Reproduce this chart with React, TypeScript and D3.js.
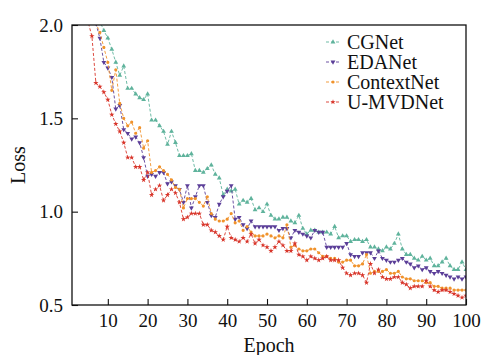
import * as d3 from "d3";
import React from "react";

// epochs 1..100 on the x axis
const epochs = d3.range(1, 101);

const seriesNames = ["CGNet", "EDANet", "ContextNet", "U-MVDNet"];
const seriesColours = ["#5fb39c", "#5b3e98", "#f0922b", "#d8352a"];

const cgnetLoss = [
    2.60, 2.48, 2.38, 2.30, 2.22, 2.15, 2.08, 2.02, 1.97, 1.93,
    1.87, 1.80, 1.73, 1.78, 1.66, 1.66, 1.63, 1.61, 1.60, 1.63,
    1.49, 1.49, 1.46, 1.43, 1.36, 1.43, 1.37, 1.30, 1.30, 1.30,
    1.31, 1.22, 1.22, 1.21, 1.23, 1.25, 1.20, 1.18, 1.09, 1.12,
    1.11, 1.12, 1.04, 1.06, 1.05, 1.07, 1.01, 1.02, 1.00, 1.04,
    0.98, 0.96, 0.96, 0.97, 0.97, 0.95, 0.94, 0.98, 0.91, 0.88,
    0.90, 0.90, 0.89, 0.89, 0.89, 0.88, 0.92, 0.86, 0.87, 0.87,
    0.84, 0.85, 0.85, 0.84, 0.85, 0.81, 0.81, 0.80, 0.79, 0.81,
    0.80, 0.83, 0.88, 0.80, 0.77, 0.77, 0.75, 0.74, 0.76, 0.74,
    0.75, 0.71, 0.71, 0.73, 0.75, 0.71, 0.69, 0.69, 0.73, 0.69,
];

const edanetLoss = [
    2.50, 2.40, 2.30, 2.22, 2.14, 2.07, 2.01, 1.93, 1.80, 1.77,
    1.72, 1.55, 1.57, 1.44, 1.42, 1.39, 1.40, 1.37, 1.29, 1.19,
    1.20, 1.19, 1.21, 1.21, 1.15, 1.16, 1.14, 1.12, 1.05, 1.14,
    1.02, 1.08, 1.14, 1.14, 1.05, 0.98, 0.97, 1.04, 1.08, 1.11,
    1.14, 0.96, 0.97, 0.93, 0.91, 0.95, 0.92, 0.92, 0.92, 0.92,
    0.92, 0.92, 0.90, 0.91, 0.91, 0.86, 0.90, 0.89, 0.88, 0.87,
    0.86, 0.90, 0.89, 0.89, 0.81, 0.81, 0.81, 0.81, 0.81, 0.83,
    0.77, 0.76, 0.76, 0.78, 0.78, 0.78, 0.75, 0.79, 0.75, 0.74,
    0.73, 0.73, 0.74, 0.75, 0.73, 0.72, 0.70, 0.71, 0.69, 0.70,
    0.68, 0.67, 0.68, 0.67, 0.66, 0.65, 0.64, 0.65, 0.64, 0.65,
];

const contextnetLoss = [
    2.45, 2.35, 2.26, 2.18, 2.11, 2.05, 2.01, 1.96, 1.88, 1.80,
    1.65, 1.76, 1.58, 1.50, 1.46, 1.48, 1.42, 1.45, 1.34, 1.38,
    1.21, 1.22, 1.24, 1.22, 1.20, 1.17, 1.13, 1.12, 1.02, 1.07,
    1.07, 1.07, 1.05, 1.03, 1.08, 0.99, 0.96, 0.95, 0.95, 0.96,
    0.99, 0.94, 0.95, 0.90, 0.92, 0.89, 0.87, 0.87, 0.87, 0.88,
    0.87, 0.86, 0.87, 0.86, 0.93, 0.81, 0.82, 0.80, 0.79, 0.79,
    0.80, 0.80, 0.78, 0.76, 0.76, 0.75, 0.75, 0.73, 0.73, 0.74,
    0.74, 0.71, 0.71, 0.72, 0.77, 0.67, 0.68, 0.68, 0.68, 0.69,
    0.67, 0.67, 0.68, 0.65, 0.64, 0.64, 0.63, 0.63, 0.63, 0.62,
    0.62, 0.60, 0.60, 0.59, 0.59, 0.59, 0.58, 0.58, 0.58, 0.58,
];

const umvdnetLoss = [
    2.40, 2.28, 2.18, 2.10, 2.02, 1.94, 1.69, 1.67, 1.64, 1.60,
    1.52, 1.47, 1.43, 1.37, 1.29, 1.29, 1.24, 1.24, 1.17, 1.21,
    1.09, 1.12, 1.14, 1.06, 1.09, 1.12, 1.10, 1.05, 0.96, 0.97,
    0.99, 0.99, 0.99, 0.93, 0.93, 0.90, 0.89, 0.87, 0.85, 0.92,
    0.86, 0.85, 0.84, 0.86, 0.84, 0.88, 0.83, 0.85, 0.82, 0.81,
    0.79, 0.81, 0.84, 0.82, 0.79, 0.79, 0.83, 0.77, 0.76, 0.74,
    0.76, 0.75, 0.74, 0.75, 0.76, 0.74, 0.74, 0.74, 0.70, 0.67,
    0.66, 0.67, 0.67, 0.66, 0.62, 0.72, 0.67, 0.69, 0.65, 0.64,
    0.64, 0.65, 0.65, 0.62, 0.61, 0.59, 0.60, 0.60, 0.60, 0.63,
    0.60, 0.58, 0.57, 0.58, 0.58, 0.57, 0.56, 0.55, 0.54, 0.55,
];

const xTicks = [10, 20, 30, 40, 50, 60, 70, 80, 90, 100];
const yTicks = [0.5, 1.0, 1.5, 2.0];

const seriesValues = [cgnetLoss, edanetLoss, contextnetLoss, umvdnetLoss];

const FONT = "'Liberation Serif', 'Times New Roman', serif";


class LossChart extends React.Component {

    canvas = {width: 484, height: 355};
    plotArea = {margins: {left: 72, right: 18, top: 25, bottom: 50}};
    svgRef = React.createRef();

    componentDidMount() {
        this.draw();
    }

    draw() {
        const svg = d3.select(this.svgRef.current);
        svg.selectAll("*").remove();

        const m = this.plotArea.margins;
        const width = this.canvas.width - m.left - m.right;
        const height = this.canvas.height - m.top - m.bottom;

        const x = d3.scaleLinear().domain([1, 100]).range([0, width]);
        const y = d3.scaleLinear().domain([0.5, 2.0]).range([height, 0]);

        svg.append("defs")
            .append("clipPath")
            .attr("id", "plot-clip")
            .append("rect")
            .attr("width", width)
            .attr("height", height);

        const plot = svg.append("g")
            .attr("transform", `translate(${m.left},${m.top})`);

        // markers per series
        const symbols = [
            d3.symbol().type(d3.symbolTriangle).size(10),
            d3.symbol().type(d3.symbolTriangle).size(10),
            d3.symbol().type(d3.symbolCircle).size(8),
            d3.symbol().type(d3.symbolStar).size(9),
        ];
        const rotation = [0, 180, 0, 0];

        const data = seriesNames.map((name, i) => ({
            name: name,
            colour: seriesColours[i],
            points: epochs.map((e, j) => ({epoch: e, loss: seriesValues[i][j]})),
        }));

        const line = d3.line()
            .x(d => x(d.epoch))
            .y(d => y(d.loss));

        const lines = plot.append("g").attr("clip-path", "url(#plot-clip)");

        data.forEach((s, i) => {
            const g = lines.append("g");
            g.append("path")
                .attr("d", line(s.points))
                .attr("fill", "none")
                .attr("stroke", s.colour)
                .attr("stroke-width", 0.9)
                .attr("stroke-dasharray", "3,2");
            g.selectAll("path.marker")
                .data(s.points)
                .join("path")
                .attr("class", "marker")
                .attr("d", symbols[i])
                .attr("transform", d => `translate(${x(d.epoch)},${y(d.loss)}) rotate(${rotation[i]})`)
                .attr("fill", s.colour);
        });

        // axes
        const xAxis = plot.append("g")
            .attr("transform", `translate(0,${height})`)
            .call(d3.axisBottom(x).tickValues(xTicks).tickSizeInner(-6).tickSizeOuter(0).tickPadding(9));
        const yAxis = plot.append("g")
            .call(d3.axisLeft(y).tickValues(yTicks).tickFormat(d3.format(".1f"))
                .tickSizeInner(-6).tickSizeOuter(0).tickPadding(9));

        [xAxis, yAxis].forEach(a => {
            a.selectAll("text")
                .attr("font-family", FONT)
                .attr("font-size", 19)
                .attr("fill", "#111");
            a.selectAll("line").attr("stroke", "#111").attr("stroke-width", 1.1);
            a.select(".domain").remove();
        });

        plot.append("rect")
            .attr("width", width)
            .attr("height", height)
            .attr("fill", "none")
            .attr("stroke", "#111")
            .attr("stroke-width", 1.3);

        // axis titles
        svg.append("text")
            .attr("x", m.left + width / 2)
            .attr("y", 352)
            .attr("text-anchor", "middle")
            .attr("font-family", FONT)
            .attr("font-size", 20)
            .attr("fill", "#111")
            .text("Epoch");
        svg.append("text")
            .attr("transform", `translate(25,${m.top + height / 2}) rotate(-90)`)
            .attr("text-anchor", "middle")
            .attr("font-family", FONT)
            .attr("font-size", 20)
            .attr("fill", "#111")
            .text("Loss");

        // legend
        const legend = svg.append("g").attr("transform", "translate(326,42)");
        data.forEach((s, i) => {
            const row = legend.append("g").attr("transform", `translate(0,${i * 20})`);
            row.append("line")
                .attr("x1", 0).attr("x2", 14)
                .attr("stroke", s.colour)
                .attr("stroke-width", 0.9)
                .attr("stroke-dasharray", "3,2");
            row.append("path")
                .attr("d", symbols[i])
                .attr("transform", `translate(7,0) rotate(${rotation[i]})`)
                .attr("fill", s.colour);
            row.append("text")
                .attr("x", 21)
                .attr("dy", "0.35em")
                .attr("font-family", FONT)
                .attr("font-size", 20)
                .attr("fill", "#111")
                .text(s.name);
        });
    }

    render() {
        return (
            <svg
                ref={this.svgRef}
                width={this.canvas.width}
                height={this.canvas.height}
                style={{position: "absolute", left: 0, top: 0, background: "#fff"}}
            />
        );
    }
}

export default function App() {
    return <LossChart />;
}
